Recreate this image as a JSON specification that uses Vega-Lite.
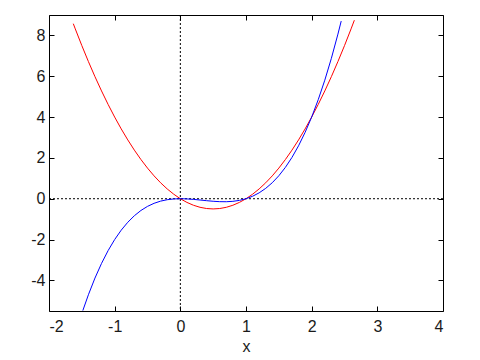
{
  "$schema": "https://vega.github.io/schema/vega-lite/v6.json",
  "autosize": {"type": "none"},
  "padding": {"left": 49, "top": 15, "right": 37, "bottom": 49},
  "width": 394,
  "height": 296,
  "background": "white",
  "config": {
    "view": {"stroke": null},
    "axis": {
      "grid": false,
      "domainColor": "black",
      "domainWidth": 1,
      "tickColor": "black",
      "tickSize": -5,
      "labelFont": "Liberation Sans",
      "labelFontSize": 16,
      "labelColor": "#1a1a1a",
      "titleFont": "Liberation Sans",
      "titleFontSize": 16,
      "titleFontWeight": "normal",
      "titleColor": "#1a1a1a"
    }
  },
  "datasets": {
    "red": [
      {"x": -1.63, "y": 8.574}, {"x": -1.6, "y": 8.32}, {"x": -1.5, "y": 7.5}, {"x": -1.4, "y": 6.72},
      {"x": -1.3, "y": 5.98}, {"x": -1.2, "y": 5.28}, {"x": -1.1, "y": 4.62}, {"x": -1.0, "y": 4.0},
      {"x": -0.9, "y": 3.42}, {"x": -0.8, "y": 2.88}, {"x": -0.7, "y": 2.38}, {"x": -0.6, "y": 1.92},
      {"x": -0.5, "y": 1.5}, {"x": -0.4, "y": 1.12}, {"x": -0.3, "y": 0.78}, {"x": -0.2, "y": 0.48},
      {"x": -0.1, "y": 0.22}, {"x": 0.0, "y": 0.0}, {"x": 0.1, "y": -0.18}, {"x": 0.2, "y": -0.32},
      {"x": 0.3, "y": -0.42}, {"x": 0.4, "y": -0.48}, {"x": 0.5, "y": -0.5}, {"x": 0.6, "y": -0.48},
      {"x": 0.7, "y": -0.42}, {"x": 0.8, "y": -0.32}, {"x": 0.9, "y": -0.18}, {"x": 1.0, "y": 0.0},
      {"x": 1.1, "y": 0.22}, {"x": 1.2, "y": 0.48}, {"x": 1.3, "y": 0.78}, {"x": 1.4, "y": 1.12},
      {"x": 1.5, "y": 1.5}, {"x": 1.6, "y": 1.92}, {"x": 1.7, "y": 2.38}, {"x": 1.8, "y": 2.88},
      {"x": 1.9, "y": 3.42}, {"x": 2.0, "y": 4.0}, {"x": 2.1, "y": 4.62}, {"x": 2.2, "y": 5.28},
      {"x": 2.3, "y": 5.98}, {"x": 2.4, "y": 6.72}, {"x": 2.5, "y": 7.5}, {"x": 2.6, "y": 8.32},
      {"x": 2.65, "y": 8.745}
    ],
    "blue": [
      {"x": -1.485, "y": -5.48}, {"x": -1.4, "y": -4.704}, {"x": -1.3, "y": -3.887}, {"x": -1.2, "y": -3.168},
      {"x": -1.1, "y": -2.541}, {"x": -1.0, "y": -2.0}, {"x": -0.9, "y": -1.539}, {"x": -0.8, "y": -1.152},
      {"x": -0.7, "y": -0.833}, {"x": -0.6, "y": -0.576}, {"x": -0.5, "y": -0.375}, {"x": -0.4, "y": -0.224},
      {"x": -0.3, "y": -0.117}, {"x": -0.2, "y": -0.048}, {"x": -0.1, "y": -0.011}, {"x": 0.0, "y": 0.0},
      {"x": 0.1, "y": -0.009}, {"x": 0.2, "y": -0.032}, {"x": 0.3, "y": -0.063}, {"x": 0.4, "y": -0.096},
      {"x": 0.5, "y": -0.125}, {"x": 0.6, "y": -0.144}, {"x": 0.7, "y": -0.147}, {"x": 0.8, "y": -0.128},
      {"x": 0.9, "y": -0.081}, {"x": 1.0, "y": 0.0}, {"x": 1.1, "y": 0.121}, {"x": 1.2, "y": 0.288},
      {"x": 1.3, "y": 0.507}, {"x": 1.4, "y": 0.784}, {"x": 1.5, "y": 1.125}, {"x": 1.6, "y": 1.536},
      {"x": 1.7, "y": 2.023}, {"x": 1.8, "y": 2.592}, {"x": 1.9, "y": 3.249}, {"x": 2.0, "y": 4.0},
      {"x": 2.1, "y": 4.851}, {"x": 2.2, "y": 5.808}, {"x": 2.3, "y": 6.877}, {"x": 2.4, "y": 8.064},
      {"x": 2.45, "y": 8.703}
    ],
    "vzero": [{"x": 0}],
    "hzero": [{"y": 0}]
  },
  "layer": [
    {
      "data": {"name": "vzero"},
      "mark": {"type": "rule", "color": "black", "strokeWidth": 1, "strokeDash": [2, 2]},
      "encoding": {
        "x": {"field": "x", "type": "quantitative", "scale": {"domain": [-2, 4], "nice": false, "zero": false}, "axis": null}
      }
    },
    {
      "data": {"name": "hzero"},
      "mark": {"type": "rule", "color": "black", "strokeWidth": 1, "strokeDash": [2, 2]},
      "encoding": {
        "y": {"field": "y", "type": "quantitative", "scale": {"domain": [-5.5, 9], "nice": false, "zero": false}, "axis": null}
      }
    },
    {
      "data": {"name": "red"},
      "mark": {"type": "line", "color": "#ff0000", "strokeWidth": 1, "clip": true},
      "encoding": {
        "x": {"field": "x", "type": "quantitative", "scale": {"domain": [-2, 4], "nice": false, "zero": false},
              "axis": {"orient": "bottom", "values": [-2, -1, 0, 1, 2, 3, 4], "labelExpr": "'' + datum.value", "title": "x", "labelPadding": 12, "titlePadding": 4}},
        "y": {"field": "y", "type": "quantitative", "scale": {"domain": [-5.5, 9], "nice": false, "zero": false},
              "axis": {"orient": "left", "values": [-4, -2, 0, 2, 4, 6, 8], "labelExpr": "'' + datum.value", "title": null, "labelPadding": 9}}
      }
    },
    {
      "data": {"name": "blue"},
      "mark": {"type": "line", "color": "#0000ff", "strokeWidth": 1, "clip": true},
      "encoding": {
        "x": {"field": "x", "type": "quantitative", "scale": {"domain": [-2, 4], "nice": false, "zero": false},
              "axis": {"orient": "top", "values": [-2, -1, 0, 1, 2, 3, 4], "labels": false, "title": null}},
        "y": {"field": "y", "type": "quantitative", "scale": {"domain": [-5.5, 9], "nice": false, "zero": false},
              "axis": {"orient": "right", "values": [-4, -2, 0, 2, 4, 6, 8], "labels": false, "title": null}}
      }
    }
  ],
  "resolve": {"axis": {"x": "independent", "y": "independent"}}
}
